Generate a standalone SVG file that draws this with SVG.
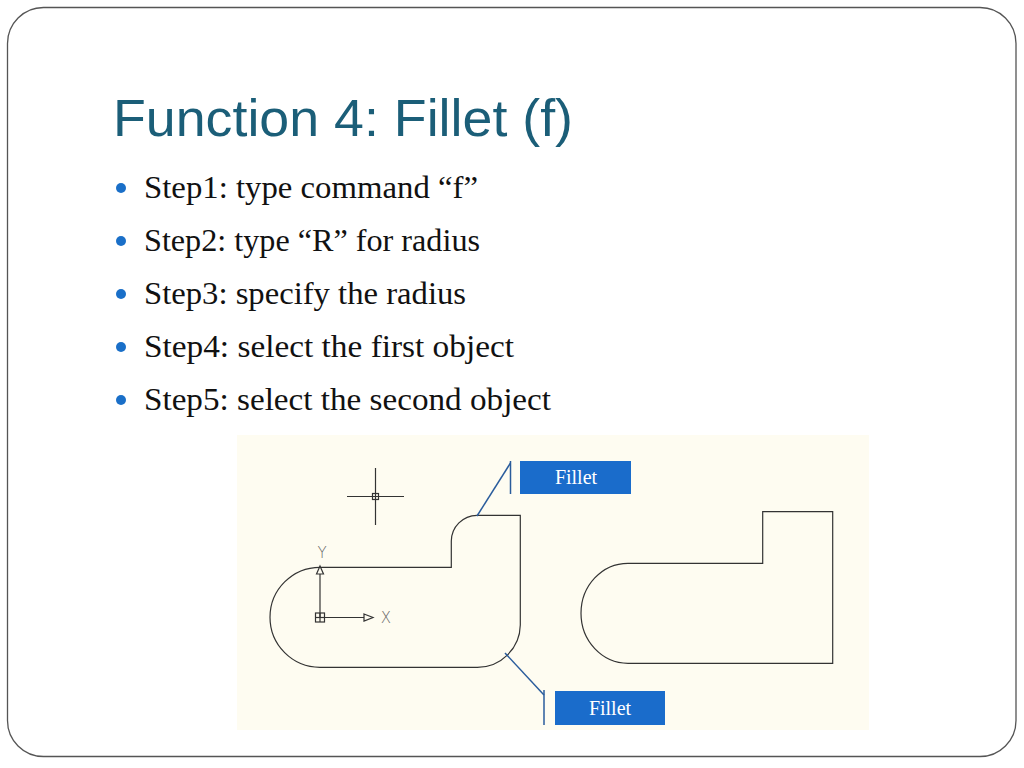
<svg xmlns="http://www.w3.org/2000/svg" width="1024" height="768" viewBox="0 0 1024 768">
<style>
.title{font-family:"Liberation Sans",Arial,sans-serif;font-size:52px;fill:#1b5e78}
.bul{font-family:"Liberation Serif","Times New Roman",serif;font-size:32px;fill:#111}
.dot{fill:#1a6fc8}
.cad{fill:none;stroke:#333;stroke-width:1.2}
.lead{fill:none;stroke:#2a5c9c;stroke-width:1.5}
.box{fill:#1a6ccb}
.boxt{font-family:"Liberation Serif","Times New Roman",serif;font-size:20px;fill:#fff;text-anchor:middle}
.axl{font-family:"DejaVu Sans",sans-serif;font-size:15px;fill:#666;font-weight:300}
</style>
<rect x="0" y="0" width="1024" height="768" fill="#fff"/>
<rect x="7.5" y="7.5" width="1008.5" height="749" rx="36" ry="36" fill="#fff" stroke="#555" stroke-width="1.3"/>
<text class="title" x="113" y="136" textLength="460" lengthAdjust="spacingAndGlyphs">Function 4: Fillet (f)</text>
<g id="bullets">
<circle class="dot" cx="121" cy="188" r="5"/>
<text class="bul" x="144" y="198" textLength="334" lengthAdjust="spacingAndGlyphs">Step1: type command “f”</text>
<circle class="dot" cx="121" cy="241" r="5"/>
<text class="bul" x="144" y="251" textLength="336" lengthAdjust="spacingAndGlyphs">Step2: type “R” for radius</text>
<circle class="dot" cx="121" cy="294" r="5"/>
<text class="bul" x="144" y="304" textLength="322" lengthAdjust="spacingAndGlyphs">Step3: specify the radius</text>
<circle class="dot" cx="121" cy="347" r="5"/>
<text class="bul" x="144" y="357" textLength="370" lengthAdjust="spacingAndGlyphs">Step4: select the first object</text>
<circle class="dot" cx="121" cy="400" r="5"/>
<text class="bul" x="144" y="410" textLength="407" lengthAdjust="spacingAndGlyphs">Step5: select the second object</text>
</g>
<rect x="237" y="435" width="632" height="295" fill="#fefcf1"/>
<g id="crosshair">
<line class="cad" x1="375.5" y1="468" x2="375.5" y2="525" stroke="#555"/>
<line class="cad" x1="347" y1="496.5" x2="404" y2="496.5" stroke="#555"/>
<rect class="cad" x="372.5" y="493.5" width="6" height="6"/>
</g>
<g id="shape-before">
<path class="cad" d="M320,567.3 L451.3,567.3 L451.3,541 A26,26 0 0 1 477,515.3 L520.3,515.3 L520.3,625 A43,43 0 0 1 477,667.3 L320,667.3 A50,50 0 0 1 320,567.3 Z"/>
</g>
<g id="ucs">
<line class="cad" x1="320" y1="617.5" x2="320" y2="574" stroke="#444"/>
<path class="cad" d="M316.5,574 L320,566 L323.5,574 Z" stroke="#555"/>
<line class="cad" x1="320" y1="617.5" x2="364" y2="617.5" stroke="#444"/>
<path class="cad" d="M364,614 L373,617.5 L364,621 Z" stroke="#555"/>
<rect class="cad" x="315.5" y="613" width="9" height="9" stroke="#444"/>
<line class="cad" x1="315.5" y1="617.5" x2="324.5" y2="617.5" stroke="#444"/>
<line class="cad" x1="320" y1="613" x2="320" y2="622" stroke="#444"/>
<text class="axl" x="322" y="558" text-anchor="middle">Y</text>
<text class="axl" x="386" y="623" text-anchor="middle">X</text>
</g>
<g id="shape-after">
<path class="cad" d="M628,563.3 L762.7,563.3 L762.7,511.7 L832.7,511.7 L832.7,663.3 L628,663.3 A47,50 0 0 1 628,563.3 Z"/>
</g>
<g id="connectors">
<polyline class="lead" points="477,516 510.5,463"/>
<line class="lead" x1="510.5" y1="461" x2="510.5" y2="494"/>
<polyline class="lead" points="505,653 544,695"/>
<line class="lead" x1="544" y1="690" x2="544" y2="725"/>
</g>
<g id="label-top">
<rect class="box" x="520" y="461" width="111" height="33"/>
<text class="boxt" x="576" y="484">Fillet</text>
</g>
<g id="label-bottom">
<rect class="box" x="555" y="691" width="110" height="34"/>
<text class="boxt" x="610" y="715">Fillet</text>
</g>
</svg>
